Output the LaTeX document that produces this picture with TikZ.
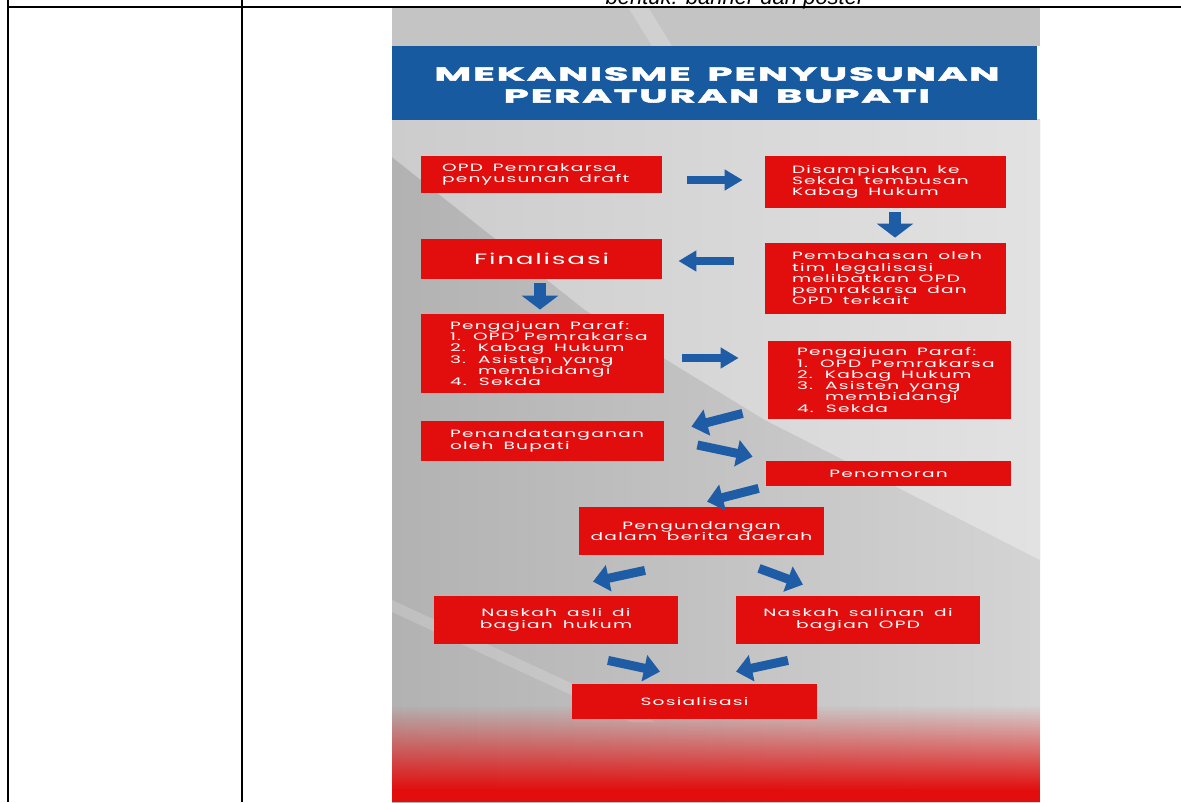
\documentclass[tikz,border=0pt]{standalone}
\usepackage{fontspec}
\setmainfont{Poppins}[FakeStretch=1.75,LetterSpace=12,WordSpace=1.6]
\newfontfamily\titlefont{Poppins}[FakeStretch=2.15,LetterSpace=9,WordSpace=1.6,BoldFeatures={FakeBold=2.5}]
\newfontfamily\capfont{Liberation Sans}
\usetikzlibrary{arrows.meta,calc,fadings}
\definecolor{boxred}{RGB}{226,14,14}
\definecolor{arrblue}{RGB}{30,92,166}
\definecolor{banblue}{RGB}{24,90,160}
\definecolor{bandgray}{RGB}{196,196,196}
\definecolor{darkbg}{RGB}{178,178,178}
\definecolor{midbg}{RGB}{212,212,212}
\definecolor{lightbg}{RGB}{226,226,226}
\definecolor{lightbgb}{RGB}{204,204,204}
\tikzfading[name=fadeup, top color=transparent!100, bottom color=transparent!0]
\newcommand\bxf{\fontsize{5.3pt}{5.65pt}\selectfont}
\tikzset{
  bx/.style={fill=boxred, text=white, inner ysep=0pt, font=\bxf},
  lbox/.style={bx, align=flush left},
  cbox/.style={bx, align=center, inner xsep=2pt},
  harrow/.style={draw=arrblue, line width=3.7pt, -{Triangle[length=9pt,width=10pt]}},
  varrow/.style={draw=arrblue, line width=6pt, -{Triangle[length=7pt,width=18pt]}},
  darrow/.style={draw=arrblue, line width=4.5pt, -{Triangle[length=8pt,width=13pt]}},
  rule/.style={draw=black, line width=0.75pt}
}
\begin{document}
\begin{tikzpicture}[x=0.5pt,y=-0.5pt]
\useasboundingbox (0,0) rectangle (1181,802);
% ---- poster background ----
\fill[bandgray] (392,7) rectangle (1040,46);
\fill[white,opacity=0.22] (628,7) -- (648,7) -- (672,46) -- (652,46) -- cycle;
\shade[left color=darkbg, right color=midbg] (392,120) rectangle (1040,802);
\shade[left color=lightbgb, right color=lightbg] (392,120) -- (1040,120) -- (1040,560) -- (765,420) -- (585,310) -- (392,157) -- cycle;
\fill[white,opacity=0.18] (392,600) -- (392,612) -- (630,722) -- (655,722) -- cycle;
\fill[boxred, path fading=fadeup] (392,705) rectangle (1040,790);
\fill[boxred] (392,789.5) rectangle (1040,802);
\fill[banblue] (392,46) rectangle (1037,120);
% ---- table rules ----
\draw[rule] (7,7) -- (1181,7);
\draw[rule] (8,0) -- (8,802);
\draw[rule] (242,0) -- (242,802);
% ---- caption (cut off at the top, as in the reference) ----
\node[anchor=base, inner sep=0pt, font=\capfont\itshape\fontsize{11pt}{13pt}\selectfont] (cap) at (735,4.5) {bentuk: banner dan poster};
% ---- title ----
\node[align=center, text=white, inner sep=0pt, font=\titlefont\fontsize{9.4pt}{11pt}\selectfont\bfseries] (title) at (717,85) {MEKANISME PENYUSUNAN\\PERATURAN BUPATI};
% ---- boxes ----
\node[lbox, minimum width=120.5pt, minimum height=18.5pt, inner xsep=10.5pt, text width=99.5pt] (b1) at (541.5,174.5) {\mbox{OPD Pemrakarsa}\\\mbox{penyusunan draft}};
\node[lbox, minimum width=120.5pt, minimum height=26pt, inner xsep=13.5pt, text width=93.5pt] (b2) at (885.5,182) {\mbox{Disampiakan ke}\\\mbox{Sekda tembusan}\\\mbox{Kabag Hukum}};
\node[cbox, minimum width=120.5pt, minimum height=20pt, font=\fontsize{7.5pt}{10pt}\selectfont] (b3) at (541.5,259) {Finalisasi};
\node[lbox, minimum width=120.5pt, minimum height=35.5pt, inner xsep=13.5pt, text width=93.5pt] (b4) at (885.5,278.5) {\mbox{Pembahasan oleh}\\\mbox{tim legalisasi}\\\mbox{melibatkan OPD}\\\mbox{pemrakarsa dan}\\\mbox{OPD terkait}};
\node[lbox, minimum width=121.5pt, minimum height=39.5pt, inner xsep=14.5pt, text width=92.5pt] (b5) at (542.5,353.5) {\mbox{Pengajuan Paraf:}\\\mbox{1. OPD Pemrakarsa}\\\mbox{2. Kabag Hukum}\\\mbox{3. Asisten yang}\\\hspace*{14pt}membidangi\\\mbox{4. Sekda}};
\node[lbox, minimum width=121.5pt, minimum height=39pt, inner xsep=14.5pt, text width=92.5pt] (b6) at (889.5,380) {\mbox{Pengajuan Paraf:}\\\mbox{1. OPD Pemrakarsa}\\\mbox{2. Kabag Hukum}\\\mbox{3. Asisten yang}\\\hspace*{14pt}membidangi\\\mbox{4. Sekda}};
\node[lbox, minimum width=121.5pt, minimum height=20pt, inner xsep=14.5pt, text width=92.5pt] (b7) at (542.5,441) {\mbox{Penandatanganan}\\\mbox{oleh Bupati}};
\node[cbox, minimum width=122.5pt, minimum height=12.5pt] (b8) at (888.5,473.5) {Penomoran};
\node[cbox, minimum width=122.5pt, minimum height=24pt] (b9) at (701.5,531) {Pengundangan\\dalam berita daerah};
\node[cbox, minimum width=122pt, minimum height=24pt] (b10) at (556,620) {Naskah asli di\\bagian hukum};
\node[cbox, minimum width=122pt, minimum height=24pt] (b11) at (858,620) {Naskah salinan di\\bagian OPD};
\node[cbox, minimum width=122.5pt, minimum height=17.5pt] (b12) at (694.5,701.5) {Sosialisasi};
% ---- arrows ----
\draw[harrow] ($(b1.east)+(25,5.5)$) -- ($(b2.west)+(-22,-2)$);
\draw[varrow] ($(b2.south)+(9.5,4)$) -- ($(b4.north)+(9.5,-5)$);
\draw[harrow] ($(b4.west)+(-31,-17.5)$) -- ($(b3.east)+(16,2)$);
\draw[varrow] ($(b3.south)+(-1.5,4)$) -- ($(b5.north)+(-2.5,-4)$);
\draw[harrow] ($(b5.east)+(18,4.5)$) -- ($(b6.west)+(-29,-22)$);
\draw[darrow] ($(b6.south west)+(-25,-6)$) -- ($(b7.north east)+(27,6)$);
\draw[darrow] ($(b7.east)+(33,4)$) -- ($(b8.north west)+(-13,-4)$);
\draw[darrow] ($(b8.south west)+(-7,2)$) -- ($(b9.north)+(5.5,-5)$);
\draw[darrow] ($(b9.south)+(-56.5,15)$) -- ($(b10.north)+(37,-14)$);
\draw[darrow] ($(b9.south)+(57.5,13)$) -- ($(b11.north)+(-55,-11)$);
\draw[darrow] ($(b10.south)+(52,16)$) -- ($(b12.north)+(-34.5,-12)$);
\draw[darrow] ($(b11.south)+(-70,16)$) -- ($(b12.north)+(41.5,-12)$);
\end{tikzpicture}
\end{document}
